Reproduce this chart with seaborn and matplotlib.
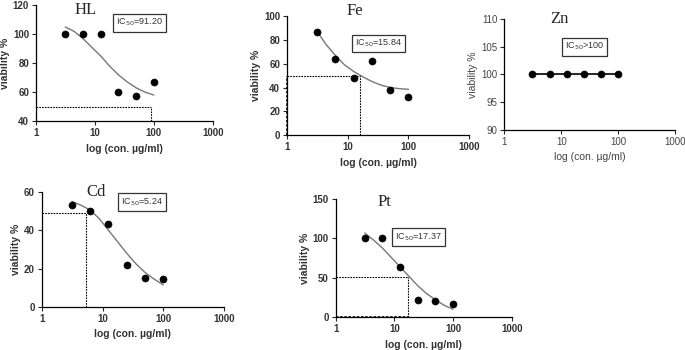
import matplotlib
matplotlib.use("Agg")
import matplotlib.pyplot as plt
import seaborn as sns
import numpy as np
import pandas as pd

# concentrations (ug/ml)
conc = [3.125, 6.25, 12.5, 25, 50, 100]

# measured viability %
hl_via = [100, 100, 100, 60, 57, 67]
fe_via = [87, 64, 48, 62, 38, 32]
zn_via = [100, 100, 100, 100, 100, 100]
cd_via = [53, 50, 43, 22, 15, 14.5]
pt_via = [100, 100, 64, 22, 20, 17]

# fitted curves
fit_conc = [3.125, 4.42, 6.25, 8.84, 12.5, 17.7, 25, 35.4, 50, 70.7, 100]
hl_fit = [105, 102, 97, 91, 85, 78, 72, 67, 63, 60, 58]
fe_fit = [87, 76, 67, 59, 53.5, 49, 45, 42, 40, 39, 38.5]
cd_fit = [55, 53, 50.5, 46, 40, 34, 28, 22.5, 18, 14.5, 11.5]
pt_fit = [107, 98, 88, 76, 64, 52, 40, 30, 22, 15, 10]

# IC50 labels and guide lines (x, y)
ic50_text = ["IC$_{50}$=91.20", "IC$_{50}$=15.84", "IC$_{50}$>100", "IC$_{50}$=5.24", "IC$_{50}$=17.37"]
hl_guide = (88, 50)
fe_guide = (15.84, 50)
cd_guide = (5.4, 49)
pt_guide = (17.37, 51)

sns.set_style("ticks")
plt.rcParams['font.family'] = ['Liberation Sans', 'DejaVu Sans']

fig = plt.figure(figsize=(6.85, 3.5), dpi=100)


def panel(rect, title, via, fit, ylim, yticks, text, box_xy, guide=None,
          title_xy=(0.5, 0.97), zn=False):
    ax = fig.add_axes(rect)
    df = pd.DataFrame({"conc": conc, "via": via})
    if fit is not None:
        fdf = pd.DataFrame({"conc": fit_conc, "via": fit})
        sns.lineplot(data=fdf, x="conc", y="via", ax=ax, color="#777777", lw=1.0)
    if zn:
        sns.lineplot(data=df, x="conc", y="via", ax=ax, color="black", lw=1.2)
    sns.scatterplot(data=df, x="conc", y="via", ax=ax, color="black", s=26,
                    edgecolor="black", zorder=5)
    ax.set_xscale("log")
    ax.set_xlim(1, 1000)
    ax.set_ylim(*ylim)
    ax.set_xticks([1, 10, 100, 1000])
    ax.set_xticklabels(["1", "10", "100", "1000"])
    ax.minorticks_off()
    ax.set_yticks(yticks)
    ax.set_yticklabels([str(t) for t in yticks])
    wt = "normal" if zn else "bold"
    col = "#333333" if not zn else "#444444"
    ax.tick_params(labelsize=7, length=3, width=0.8, pad=2, labelcolor=col)
    for lab in ax.get_xticklabels() + ax.get_yticklabels():
        lab.set_fontweight(wt)
    ax.set_xlabel("log (con. µg/ml)", fontsize=7.5, fontweight=wt, labelpad=4, color=col)
    ax.set_ylabel("viability %", fontsize=7.5, fontweight=wt, labelpad=2, color=col)
    for s in ["left", "bottom"]:
        ax.spines[s].set_linewidth(0.9)
        ax.spines[s].set_color("black")
    sns.despine(ax=ax)
    ax.text(title_xy[0], title_xy[1], title, transform=ax.transAxes, ha="center",
            va="top", fontsize=12, family="Liberation Serif")
    ax.text(box_xy[0], box_xy[1], text, transform=ax.transAxes, ha="center",
            va="center", fontsize=6.5, color="#333333",
            bbox=dict(boxstyle="square,pad=0.35", fc="white", ec="#333333", lw=0.9))
    if guide is not None:
        gx, gy = guide
        ax.plot([1, gx], [gy, gy], ls=(0, (1.5, 1)), color="black", lw=0.8)
        ax.plot([gx, gx], [ylim[0], gy], ls=(0, (1.5, 1)), color="black", lw=0.8)
    return ax


ax1 = panel([0.0526, 0.654, 0.258, 0.331], "HL", hl_via, hl_fit, (40, 120),
            [40, 60, 80, 100, 120], ic50_text[0], (0.585, 0.85), hl_guide,
            title_xy=(0.28, 1.03))
ax2 = panel([0.419, 0.614, 0.266, 0.34], "Fe", fe_via, fe_fit, (0, 100),
            [0, 20, 40, 60, 80, 100], ic50_text[1], (0.50, 0.77), fe_guide,
            title_xy=(0.37, 1.11))
ax2.plot([1, 1], [0, 50], ls=(0, (1.5, 1)), color="black", lw=1.2, clip_on=False)
ax3 = panel([0.736, 0.629, 0.25, 0.317], "Zn", zn_via, None, (90, 110),
            [90, 95, 100, 105, 110], ic50_text[2], (0.47, 0.75), None,
            title_xy=(0.32, 1.07), zn=True)
ax4 = panel([0.061, 0.123, 0.266, 0.329], "Cd", cd_via, cd_fit, (0, 60),
            [0, 20, 40, 60], ic50_text[3], (0.55, 0.91), cd_guide,
            title_xy=(0.30, 1.07))
ax5 = panel([0.49, 0.094, 0.257, 0.337], "Pt", pt_via, pt_fit, (0, 150),
            [0, 50, 100, 150], ic50_text[4], (0.47, 0.68), pt_guide,
            title_xy=(0.28, 1.04))
ax5.plot([1, pt_guide[0]], [0, 0], ls=(0, (1.5, 1)), color="black", lw=1.2, clip_on=False)

fig.savefig("out.png", dpi=100)
